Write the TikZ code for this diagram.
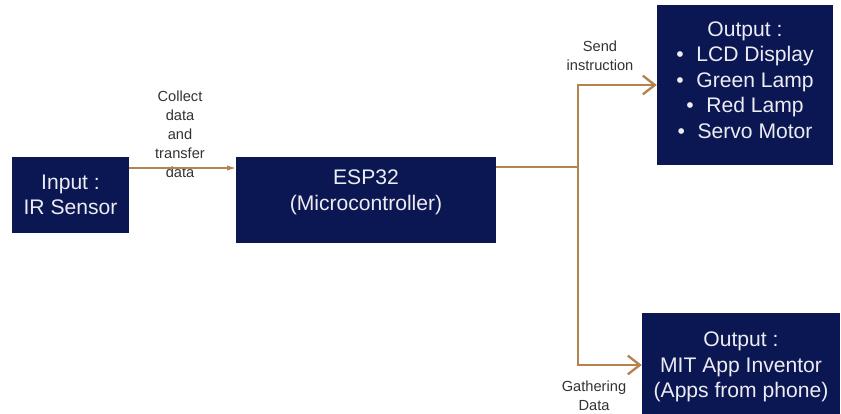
\documentclass[tikz,border=0pt]{standalone}
\usepackage{fontspec}
\setmainfont{Liberation Sans}
\usetikzlibrary{arrows.meta,positioning}
\definecolor{boxblue}{HTML}{0B1752}
\definecolor{linebrown}{HTML}{B5834F}
\definecolor{boxtext}{HTML}{ECECF2}

\begin{document}
\begin{tikzpicture}[
    x=0.03cm, y=-0.03cm,
    every node/.style={font=\fontsize{12.5}{16.2}\selectfont},
    block/.style={
        rectangle,
        fill=boxblue,
        text=boxtext,
        align=center,
        inner sep=0pt,
        font=\fontsize{18}{21.8}\selectfont
    },
    note/.style={align=center, text=black!80},
    thinflow/.style={draw=linebrown, line width=0.9pt, -{Latex[length=2.6mm,width=1.6mm]}},
    thickflow/.style={draw=linebrown, line width=2pt, -{Straight Barb[length=3.6mm,width=5.6mm,line width=2pt]}}
]
\useasboundingbox (0,0) rectangle (841,413);

\node[block, minimum width=3.51cm, minimum height=2.28cm] (input) at (70.5,195) {Input :\\ IR Sensor};
\node[block, minimum width=7.8cm, minimum height=2.58cm, text depth=0.6cm] (esp) at (366,200) {ESP32\\ (Microcontroller)};
\node[block, minimum width=5.28cm, minimum height=4.8cm, text depth=0.3cm] (out1) at (745,85)
    {Output :\\ \textbullet\hspace{0.6em}LCD Display\\ \textbullet\hspace{0.6em}Green Lamp\\ \textbullet\hspace{0.6em}Red Lamp\\ \textbullet\hspace{0.6em}Servo Motor};
\node[block, minimum width=5.94cm, minimum height=3.24cm] (out2) at (741,367) {Output :\\ MIT App Inventor\\ (Apps from phone)};

\node[note] (collect) at (180,134) {Collect\\ data\\ and\\ transfer\\ data};
\node[note] (send) at (600,56) {Send\\ instruction};
\node[note] (gather) at (594,396) {Gathering\\ Data};

\coordinate (inlevel) at (0,168);
\coordinate (split) at (578,167);
\coordinate (lowlevel) at (0,365);

\draw[thinflow] (input.east |- inlevel) -- (esp.west |- inlevel);
\draw[draw=linebrown, line width=0.9pt] (esp.east |- split) -- (split);
\draw[thickflow] (split) -- (split |- out1.west) -- (out1.west);
\draw[thickflow] (split) -- (split |- lowlevel) -- (out2.west |- lowlevel);

\end{tikzpicture}
\end{document}
